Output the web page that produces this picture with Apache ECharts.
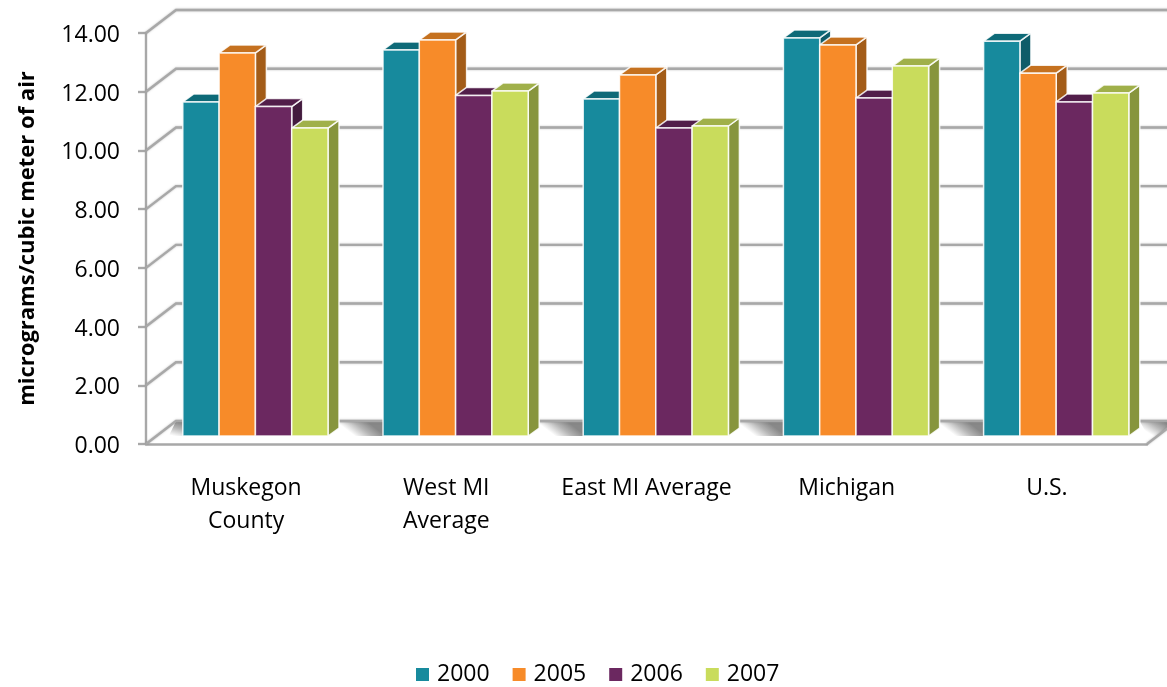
<!DOCTYPE html>
<html><head><meta charset="utf-8">
<style>html,body{margin:0;padding:0;background:#fff}#c{width:1167px;height:687px}</style>
<script src="https://cdn.jsdelivr.net/npm/echarts@6/dist/echarts.min.js"></script>
</head><body><div id="c"></div>
<script>
const categories = ['Muskegon\nCounty','West MI\nAverage','East MI Average','Michigan','U.S.'];
const years = ['2000','2005','2006','2007'];
const values2000 = [11.38,13.15,11.48,13.56,13.45];
const values2005 = [13.05,13.49,12.30,13.32,12.36];
const values2006 = [11.22,11.60,10.49,11.51,11.38];
const values2007 = [10.49,11.75,10.56,12.60,11.68];
const yTicks = [0,2,4,6,8,10,12,14];
const seriesValues = [values2000,values2005,values2006,values2007];
const faces = [
  {front:'#178A9D',top:'#0E6A78',side:'#0F5C69'},
  {front:'#F78B29',top:'#C5711F',side:'#A35C18'},
  {front:'#6B2860',top:'#521E4A',side:'#431B3E'},
  {front:'#C9DC5C',top:'#A0B04A',side:'#87953D'}
];
const FONT='"Open Sans"';
const GRAY='#a8a8a8';
const wall={dx:30,dy:-23}, depth={dx:11,dy:-8}, base={dy:-8};
const barW=36.3, groupStart=-63.3;

function barItem(si){
  return function(params,api){
    const cat=api.value(0), v=api.value(1);
    const p=api.coord([cat,v]), p0=api.coord([cat,0]);
    const x0=p[0]+groupStart+si*barW, x1=x0+barW;
    const yt=p[1]+base.dy, yb=p0[1]+base.dy;
    const f=faces[si];
    const edge={stroke:'rgba(255,255,255,0.85)',lineWidth:1.5,lineJoin:'round'};
    const d=depth;
    return {type:'group',children:[
      {type:'polygon',shape:{points:[[x1,yb],[x1+d.dx,yb+d.dy],[x1+d.dx,yt+d.dy],[x1,yt]]},style:Object.assign({fill:f.side},edge)},
      {type:'polygon',shape:{points:[[x0,yt],[x0+d.dx,yt+d.dy],[x1+d.dx,yt+d.dy],[x1,yt]]},style:Object.assign({fill:f.top},edge)},
      {type:'rect',shape:{x:x0,y:yt,width:barW,height:yb-yt},style:Object.assign({fill:f.front},edge)}
    ]};
  };
}
function wallItem(params,api){
  const v=api.value(0);
  const band=api.size([1,0])[0];
  const left=api.coord([0,v])[0]-band/2;
  const right=left+band*categories.length;
  const y=api.coord([0,v])[1];
  const line={stroke:GRAY,lineWidth:2.4,shadowBlur:2,shadowColor:'rgba(120,120,120,0.5)'};
  const kids=[
    {type:'polyline',shape:{points:[[left,y],[left+wall.dx,y+wall.dy],[right+wall.dx,y+wall.dy]]},style:Object.assign({fill:'none'},line)}
  ];
  if(v===0) kids.push({type:'line',shape:{x1:right,y1:y,x2:right+wall.dx,y2:y+wall.dy},style:line});
  return {type:'group',children:kids};
}
function floorItem(params,api){
  const i=api.value(0);
  const band=api.size([1,0])[0];
  const c0=api.coord([0,0]);
  const left=c0[0]-band/2, right=left+band*categories.length, y=c0[1];
  const yTop=y+wall.dy, yBot=y+base.dy;
  const center=k=>c0[0]+band*k;
  const xL=i===0?left+wall.dx:center(i-1)+groupStart+4*barW+depth.dx;
  const xR=i===categories.length?right+wall.dx:center(i)+groupStart;
  const w=xR-xL;
  let pts;
  if(i===0) pts=[[xL,yTop],[xR,yTop],[xR,yBot],[xR-14,yBot]];
  else if(i===categories.length) pts=[[xL,yTop],[xR,yTop],[right+(-base.dy)*wall.dx/(-wall.dy),yBot],[xL+8,yBot]];
  else pts=[[xL,yTop],[xR,yTop],[xR,yBot],[xL+w*0.3,yBot],[xL,yTop+6]];
  return {type:'polygon',shape:{points:pts},style:{fill:new echarts.graphic.LinearGradient(0.62,0,0.36,1,[
    {offset:0,color:'#888888'},{offset:0.45,color:'#b5b5b5'},{offset:0.8,color:'#e4e4e4'},{offset:1,color:'#ffffff'}])}};
}
const chart=echarts.init(document.getElementById('c'),null,{renderer:'canvas'});
chart.setOption({
  animation:false,
  backgroundColor:'#fff',
  textStyle:{fontFamily:FONT},
  grid:{left:146,top:33,width:1001,height:411},
  legend:{data:years,left:411,top:658,itemWidth:13,itemHeight:13,itemGap:23,icon:'rect',
    textStyle:{fontFamily:FONT,fontSize:23,color:'#000',padding:[0,0,0,3]}},
  xAxis:{type:'category',data:categories,
    axisLine:{show:true,lineStyle:{color:GRAY,width:2.5}},axisTick:{show:false},
    axisLabel:{fontFamily:FONT,fontSize:23,color:'#000',margin:28,lineHeight:33,interval:0}},
  yAxis:{type:'value',min:0,max:14,interval:2,
    name:'micrograms/cubic meter of air',nameLocation:'middle',nameGap:107,nameRotate:90,
    nameTextStyle:{fontFamily:FONT,fontSize:22,fontWeight:'bold',color:'#000'},
    axisLine:{show:true,lineStyle:{color:GRAY,width:2.4}},
    axisTick:{show:true,length:8,lineStyle:{color:GRAY,width:2.4}},
    splitLine:{show:false},
    axisLabel:{fontFamily:FONT,fontSize:23,color:'#000',margin:26,verticalAlign:'top',lineHeight:5,formatter:v=>v.toFixed(2)}},
  series:[
    {type:'custom',name:'floor',silent:true,z:0,renderItem:floorItem,coordinateSystem:'cartesian2d',
      encode:{x:-1,y:-1},data:[0,1,2,3,4,5].map(v=>[v])},
    {type:'custom',name:'walls',silent:true,z:1,renderItem:wallItem,data:yTicks.map(v=>[v]),
      encode:{x:-1,y:0},coordinateSystem:'cartesian2d'}
  ].concat(years.map((y,si)=>({
    type:'custom',name:y,z:2+si,coordinateSystem:'cartesian2d',
    itemStyle:{color:faces[si].front},
    renderItem:barItem(si),
    encode:{x:0,y:1},
    data:seriesValues[si].map((v,i)=>[i,v])
  })))
});
</script></body></html>
